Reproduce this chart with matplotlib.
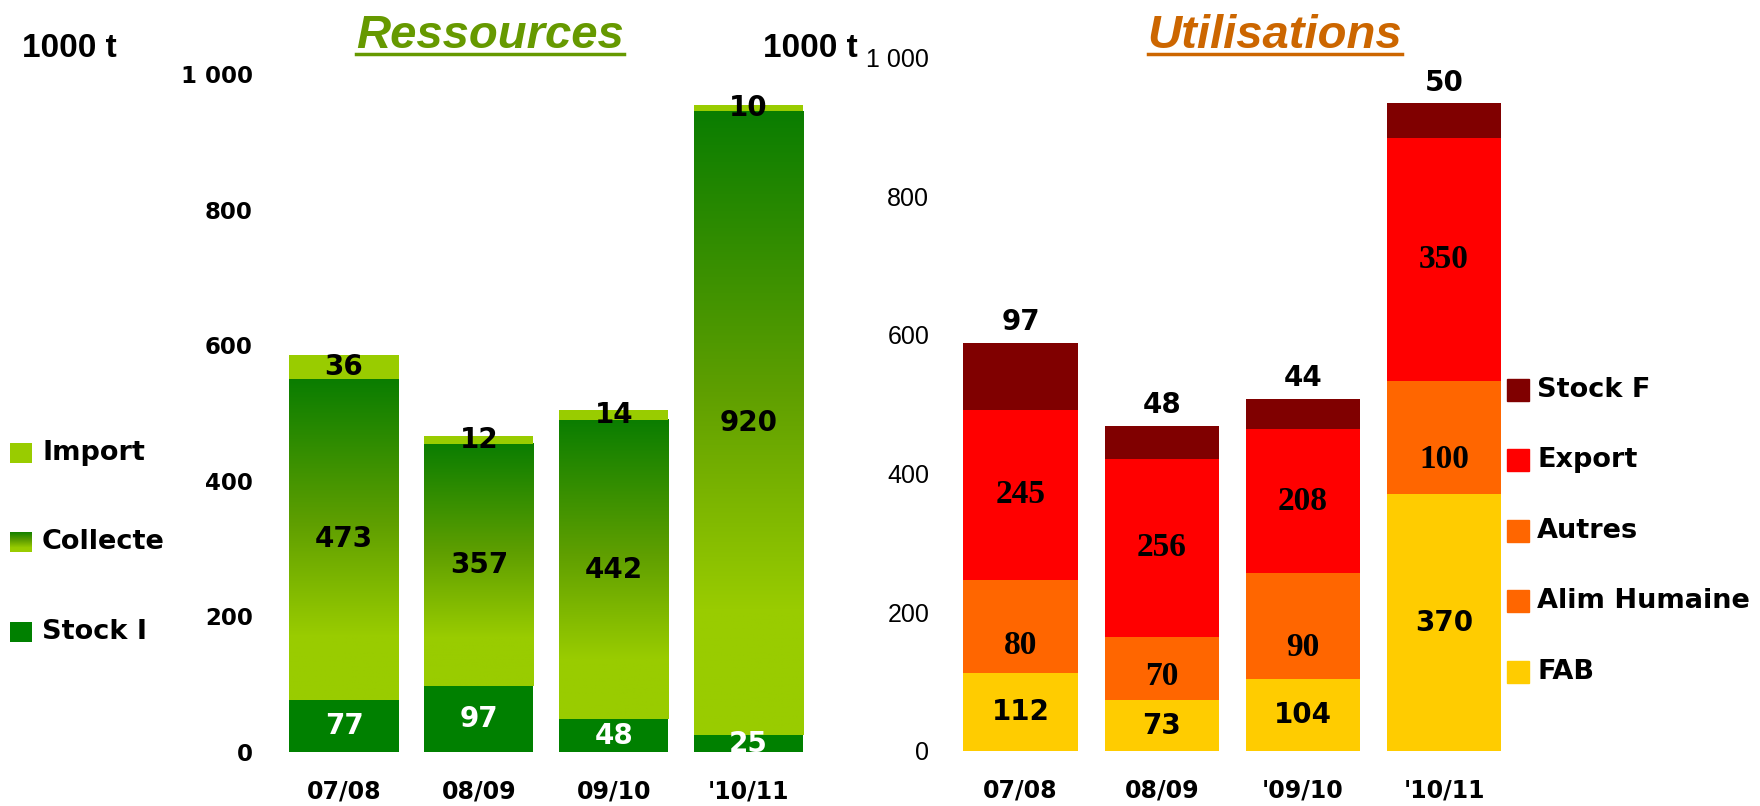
import numpy as np
import matplotlib
matplotlib.use("Agg")
import matplotlib.pyplot as plt
from matplotlib.colors import LinearSegmentedColormap
from matplotlib.patches import Rectangle
from matplotlib.lines import Line2D

# Ressources (1000 t)
seasons_res = ["07/08", "08/09", "09/10", "'10/11"]
stock_i = [77, 97, 48, 25]
collecte = [473, 357, 442, 920]
imports = [36, 12, 14, 10]

# Utilisations (1000 t)
seasons_use = ["07/08", "08/09", "'09/10", "'10/11"]
fab = [112, 73, 104, 370]
alim_humaine = [80, 70, 90, 100]
autres = [55, 22, 62, 64]  # not labelled in the original
export = [245, 256, 208, 350]
stock_f = [97, 48, 44, 50]

yticks = [0, 200, 400, 600, 800, 1000]
ytick_labels = ["0", "200", "400", "600", "800", "1 000"]

W, H = 1760, 806
BOLD = "DejaVu Sans"
ARIAL = "Liberation Sans"
SERIF = "Liberation Serif"

c_stock_i = "#008000"
c_import = "#99cc00"
c_fab = "#ffcc00"
c_orange = "#ff6600"
c_export = "#ff0000"
c_stock_f = "#800000"

green_grad = LinearSegmentedColormap.from_list(
    "collecte", [(0, "#99cc00"), (0.2, "#99cc00"), (0.55, "#5f9f00"), (1.0, "#0a7d00")])


def px_rect(x0, y0, x1, y1):
    # pixel box (from top-left) -> figure fraction
    return [x0 / W, 1 - y1 / H, (x1 - x0) / W, (y1 - y0) / H]


def fy(y):
    return 1 - y / H


fig = plt.figure(figsize=(W / 100, H / 100), dpi=100)

# ---------- Ressources ----------
ax1 = fig.add_axes(px_rect(276.6, 74, 816, 752))
x = np.arange(len(seasons_res))
bw = 0.81
ax1.bar(x, stock_i, width=bw, color=c_stock_i, zorder=2)
coll = ax1.bar(x, collecte, bottom=stock_i, width=bw, color="none", zorder=2)
grad = np.linspace(0, 1, 256).reshape(-1, 1)
for p in coll:
    x0, y0 = p.get_x(), p.get_y()
    ax1.imshow(grad, cmap=green_grad, origin="lower", aspect="auto", zorder=2,
               extent=[x0, x0 + p.get_width(), y0, y0 + p.get_height()])
imp_bottom = np.add(stock_i, collecte)
ax1.bar(x, imports, bottom=imp_bottom, width=bw, color=c_import, zorder=2)

for i in range(len(x)):
    ax1.text(x[i], stock_i[i] / 2, str(stock_i[i]), ha="center", va="center",
             color="white", fontsize=20, fontweight="bold", family=BOLD, zorder=3)
    ax1.text(x[i], stock_i[i] + collecte[i] / 2, str(collecte[i]), ha="center", va="center",
             color="black", fontsize=20, fontweight="bold", family=BOLD, zorder=3)
    ax1.text(x[i], imp_bottom[i] + imports[i] / 2, str(imports[i]), ha="center", va="center",
             color="black", fontsize=20, fontweight="bold", family=BOLD, zorder=3)

ax1.set_xlim(-0.5, 3.5)
ax1.set_ylim(0, 1000)
ax1.set_yticks(yticks)
ax1.set_yticklabels(ytick_labels, fontsize=16.5, fontweight="bold", family=BOLD)
ax1.set_xticks(x)
ax1.set_xticklabels(seasons_res, fontsize=17, fontweight="bold", family=BOLD)
ax1.tick_params(axis="y", length=0, pad=17)
ax1.tick_params(axis="x", length=0, pad=20)
for s in ax1.spines.values():
    s.set_visible(False)

# ---------- Utilisations ----------
ax2 = fig.add_axes(px_rect(950, 57.5, 1514.6, 751))
x2 = np.arange(len(seasons_use))
b = np.zeros(len(x2))
layers = [(fab, c_fab), (alim_humaine, c_orange), (autres, c_orange),
          (export, c_export), (stock_f, c_stock_f)]
bottoms = []
for vals, col in layers:
    bottoms.append(b.copy())
    ax2.bar(x2, vals, bottom=b, width=bw, color=col, zorder=2)
    b = b + np.array(vals)
totals = b

for i in range(len(x2)):
    ax2.text(x2[i], bottoms[0][i] + fab[i] / 2, str(fab[i]), ha="center", va="center",
             fontsize=20, fontweight="bold", family=BOLD, zorder=3)
    ax2.text(x2[i], bottoms[1][i] + alim_humaine[i] / 2, str(alim_humaine[i]), ha="center",
             va="center", fontsize=24, fontweight="bold", family=SERIF, zorder=3)
    ax2.text(x2[i], bottoms[3][i] + export[i] / 2, str(export[i]), ha="center",
             va="center", fontsize=24, fontweight="bold", family=SERIF, zorder=3)
    ax2.annotate(str(stock_f[i]), (x2[i], totals[i]), xytext=(0, 9), textcoords="offset points",
                 ha="center", va="baseline", fontsize=20, fontweight="bold", family=BOLD)

ax2.set_xlim(-0.5, 3.5)
ax2.set_ylim(0, 1000)
ax2.set_yticks(yticks)
ax2.set_yticklabels(ytick_labels, fontsize=18, family=ARIAL)
ax2.set_xticks(x2)
ax2.set_xticklabels(seasons_use, fontsize=17, fontweight="bold", family=BOLD)
ax2.tick_params(axis="y", length=0, pad=15)
ax2.tick_params(axis="x", length=0, pad=20)
for s in ax2.spines.values():
    s.set_visible(False)

# ---------- unit labels and titles ----------
fig.text(22 / W, fy(57), "1000 t", fontsize=24, fontweight="bold", family=ARIAL, va="baseline")
fig.text(763 / W, fy(57), "1000 t", fontsize=24, fontweight="bold", family=ARIAL, va="baseline")

renderer = fig.canvas.get_renderer()
for label, cx, col in [("Ressources", 490, "#669900"), ("Utilisations", 1275, "#cc6600")]:
    t = fig.text(cx / W, fy(48), label, fontsize=34, fontweight="bold", style="italic",
                 family=ARIAL, color=col, ha="center", va="baseline")
    bb = t.get_window_extent(renderer)
    fig.add_artist(Line2D([bb.x0 / W, bb.x1 / W], [fy(53.5), fy(53.5)], color=col, lw=2.5))

# ---------- legends ----------
left_legend = [("Import", c_import, 453), ("Collecte", None, 542), ("Stock I", c_stock_i, 632)]
for name, col, yc in left_legend:
    sq = fig.add_axes(px_rect(10, yc - 10, 32, yc + 10))
    sq.set_axis_off()
    if col is None:
        sq.imshow(grad, cmap=green_grad, origin="lower", aspect="auto", extent=[0, 1, 0, 1])
    else:
        sq.add_patch(Rectangle((0, 0), 1, 1, color=col))
    sq.set_xlim(0, 1)
    sq.set_ylim(0, 1)
    fig.text(42 / W, fy(yc), name, fontsize=19.5, fontweight="bold", family=BOLD, va="center")

right_legend = [("Stock F", c_stock_f, 390), ("Export", c_export, 460), ("Autres", c_orange, 531),
                ("Alim Humaine", c_orange, 601), ("FAB", c_fab, 672)]
for name, col, yc in right_legend:
    fig.add_artist(Rectangle((1507 / W, fy(yc + 11)), 22 / W, 22 / H, color=col,
                             transform=fig.transFigure))
    fig.text(1537 / W, fy(yc), name, fontsize=19.5, fontweight="bold", family=BOLD, va="center")

fig.savefig("out.png", dpi=100)
